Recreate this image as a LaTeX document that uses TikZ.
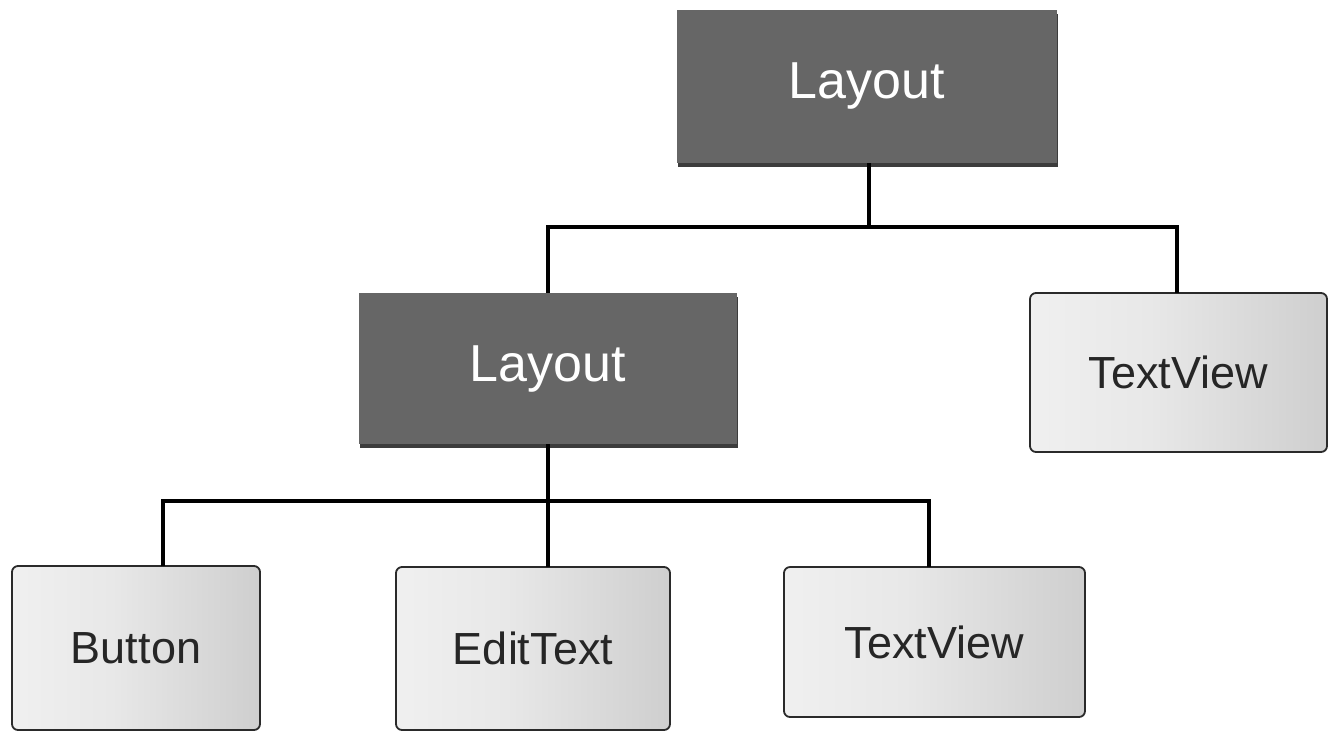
\documentclass[tikz,border=0pt]{standalone}
\usepackage{fontspec}
\setmainfont{Liberation Sans}
\usetikzlibrary{calc}
\definecolor{darkbox}{HTML}{666666}
\definecolor{darkshadow}{HTML}{3C3C3C}
\definecolor{edgegray}{HTML}{2A2A2A}
\pgfdeclarehorizontalshading{lightgrad}{100bp}{%
  color(0bp)=(white!95!black); color(25bp)=(white!94!black);
  color(45bp)=(white!91!black); color(60bp)=(white!86!black);
  color(78bp)=(white!80!black); color(100bp)=(white!66!black)}
\tikzset{
  darknode/.style={rectangle, inner sep=0pt, fill=darkbox, text=white,
    font=\fontsize{52}{60}\selectfont,
    preaction={fill=darkshadow, transform canvas={xshift=1pt,yshift=-4pt}}},
  lightnode/.style={rectangle, rounded corners=6pt, inner sep=0pt,
    draw=edgegray, line width=1.8pt, shading=lightgrad, text=black!85,
    font=\fontsize{45}{54}\selectfont},
  conn/.style={line width=3.6pt, black}
}
\begin{document}
\begin{tikzpicture}[x=1pt,y=-1pt]
\useasboundingbox[fill=white] (0,0) rectangle (1329,732);
% nodes
\node[darknode, minimum width=380pt, minimum height=153pt] (L1) at (867,86.5) {Layout};
\node[darknode, minimum width=378pt, minimum height=151pt] (L2) at (548,368.5) {Layout};
\node[lightnode, minimum width=297pt, minimum height=159pt] (T1) at (1178.5,372.5) {TextView};
\node[lightnode, minimum width=248pt, minimum height=164pt] (B) at (136,648) {Button};
\node[lightnode, minimum width=274pt, minimum height=163pt] (E) at (533,648.5) {EditText};
\node[lightnode, minimum width=301pt, minimum height=150pt] (T2) at (934.5,642) {TextView};
% junction coordinates
\coordinate (j1) at (869,227);
\coordinate (j2) at (548,501);
\coordinate (bB) at (163,566);
\coordinate (bE) at (548,567);
\coordinate (bT) at (929,567);
\coordinate (tT) at (1177,293);
% connectors
\draw[conn] (L1.south -| j1) -- (j1);
\draw[conn] (L2.north) |- (j1) -| (tT);
\draw[conn] (L2.south) -- (j2);
\draw[conn] (bB) |- (j2) -| (bT);
\draw[conn] (j2) -- (bE);
\end{tikzpicture}
\end{document}
